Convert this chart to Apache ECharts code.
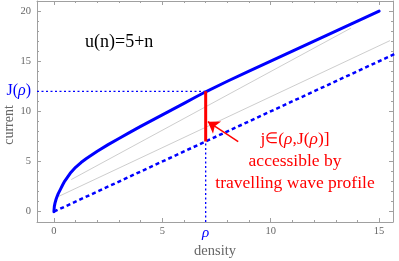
<!DOCTYPE html>
<html><head><meta charset="utf-8">
<script src="https://cdn.jsdelivr.net/npm/echarts@6/dist/echarts.min.js"></script>
<style>html,body{margin:0;padding:0;background:#fff}#c{width:399px;height:261px}</style>
</head><body><div id="c"></div>
<script>
// ---- data ----
const rhoVals = [0, 0.02, 0.05, 0.1, 0.15, 0.2, 0.3, 0.4, 0.5, 0.75, 1.0, 1.25, 1.5, 2.0, 2.5, 3.0, 3.5, 4.0, 4.5, 5.0, 5.5, 6.0, 6.5, 7.0, 8.0, 9.0, 10, 11, 12, 13, 14, 15];
const jVals   = [0, 0.53, 0.85, 1.24, 1.54, 1.8, 2.22, 2.66, 3.05, 3.82, 4.42, 4.9, 5.3, 6.02, 6.68, 7.3, 7.9, 8.5, 9.08, 9.65, 10.22, 10.8, 11.38, 11.95, 13.0, 14.0, 15.0, 16.0, 17.0, 18.0, 19.0, 20.0];
const diagX = [0, 17];            // dotted line j = rho
const diagY = [0, 17];
const grayA_X = [0.8, 13.7], grayA_Y = [3.2, 18.3];
const grayB_X = [0.2, 15.5], grayB_Y = [1.5, 17.05];
const rhoMark = 7;                // chosen density
const jMark = 12;                 // J(rho)
const jLow = 7;                   // rho value on diagonal
const arrowTail = [8.5, 6.98], arrowTip = [7.1, 8.97];
const xTicksMajor = [0, 5, 10, 15];
const xTickLabels = [0, 5, 7, 10, 15];
const yTicksMajor = [0, 5, 10, 15, 20];
const yTickLabels = [0, 5, 10, 12, 15, 20];
const minorTicksX = [0,1,2,3,4,5,6,7,8,9,10,11,12,13,14,15];
const minorTicksY = [0,1,2,3,4,5,6,7,8,9,10,11,12,13,14,15,16,17,18,19,20,21];
const xMin = -0.78, xMax = 15.64, yMin = -1.03, yMax = 21.0;

const FONT = 'Liberation Serif';
const frame = '#a0a0a0';
const tickTxt = '#666666';
const BLUE = '#0000ff', RED = '#ff0000';

function xAx(pos, ticks, len, showLine, labels) {
  return {
    type: 'value', position: pos, min: xMin, max: xMax,
    axisLine: {show: showLine, onZero: false, lineStyle: {color: frame, width: 1}},
    axisTick: {show: true, inside: true, length: len, customValues: ticks, lineStyle: {color: frame}},
    axisLabel: labels ? {
      show: true, customValues: labels, margin: 4,
      fontFamily: FONT, fontSize: 10.5, color: tickTxt,
      formatter: v => v === rhoMark ? '{r|ρ}' : String(v),
      rich: {r: {fontFamily: FONT, fontStyle: 'italic', fontSize: 15, color: BLUE}}
    } : {show: false},
    splitLine: {show: false}
  };
}
function yAx(pos, ticks, len, showLine, labels) {
  return {
    type: 'value', position: pos, min: yMin, max: yMax,
    axisLine: {show: showLine, onZero: false, lineStyle: {color: frame, width: 1}},
    axisTick: {show: true, inside: true, length: len, customValues: ticks, lineStyle: {color: frame}},
    axisLabel: labels ? {
      show: true, customValues: labels, margin: 6,
      fontFamily: FONT, fontSize: 10.5, color: tickTxt,
      formatter: v => v === jMark ? '{b|J(}{i|ρ}{b|)}' : String(v),
      rich: {
        b: {fontFamily: FONT, fontSize: 16, color: BLUE},
        i: {fontFamily: FONT, fontSize: 16, fontStyle: 'italic', color: BLUE}
      }
    } : {show: false},
    splitLine: {show: false}
  };
}

const zip = (a, b) => a.map((v, i) => [v, b[i]]);
const redRich = {
  n: {fontFamily: FONT, fontSize: 17.5, fill: RED},
  e: {fontFamily: FONT, fontSize: 15, fill: RED},
  i: {fontFamily: FONT, fontSize: 17.5, fontStyle: 'italic', fill: RED}
};

const chart = echarts.init(document.getElementById('c'), null, {renderer: 'canvas'});
chart.setOption({
  animation: false,
  grid: {left: 37, top: 1, right: 6, bottom: 39, containLabel: false},
  xAxis: [
    xAx('bottom', xTicksMajor, 4, true, xTickLabels),
    xAx('bottom', minorTicksX, 2, false, null),
    xAx('top', xTicksMajor, 4, true, null),
    xAx('top', minorTicksX, 2, false, null)
  ],
  yAxis: [
    yAx('left', yTicksMajor, 4, true, yTickLabels),
    yAx('left', minorTicksY, 2, false, null),
    yAx('right', yTicksMajor, 4, true, null),
    yAx('right', minorTicksY, 2, false, null)
  ],
  series: [
    {type: 'line', data: zip(grayA_X, grayA_Y), symbol: 'none', lineStyle: {color: '#c0c0c0', width: 0.8}},
    {type: 'line', data: zip(grayB_X, grayB_Y), symbol: 'none', lineStyle: {color: '#c0c0c0', width: 0.8}},
    {type: 'line', data: zip(diagX, diagY), symbol: 'none', clip: true,
     lineStyle: {color: BLUE, width: 2.5, type: [4, 3]}},
    {type: 'line', data: [[xMin, jMark], [rhoMark, jMark]], symbol: 'none',
     lineStyle: {color: BLUE, width: 1.3, type: [2, 2.5]}},
    {type: 'line', data: [[rhoMark, yMin], [rhoMark, jLow]], symbol: 'none',
     lineStyle: {color: BLUE, width: 1.3, type: [2, 2.5]}},
    {type: 'line', data: zip(rhoVals, jVals), symbol: 'none', smooth: false,
     lineStyle: {color: BLUE, width: 3, join: 'round', cap: 'round'}},
    {type: 'line', data: [[rhoMark, jLow], [rhoMark, jMark]], symbol: 'none',
     lineStyle: {color: RED, width: 3},
     markLine: {
       silent: true, symbol: ['none', 'arrow'], symbolSize: 11,
       lineStyle: {color: RED, width: 1.5, type: 'solid'}, label: {show: false},
       data: [[{coord: arrowTail}, {coord: arrowTip}]]
     }}
  ],
  graphic: [
    {type: 'text', x: 85, y: 42, style: {text: 'u(n)=5+n', fontFamily: FONT, fontSize: 18, fill: '#000', verticalAlign: 'middle'}},
    {type: 'text', x: 295, y: 139, style: {text: '{n|j}{e|∈}{n|(}{i|ρ}{n|,J(}{i|ρ}{n|)]}', rich: redRich, fontFamily: FONT, fontSize: 17.5, fill: RED, align: 'center', verticalAlign: 'middle'}},
    {type: 'text', x: 295, y: 161, style: {text: 'accessible by', fontFamily: FONT, fontSize: 17.5, fill: RED, align: 'center', verticalAlign: 'middle'}},
    {type: 'text', x: 295, y: 183, style: {text: 'travelling wave profile', fontFamily: FONT, fontSize: 17.5, fill: RED, align: 'center', verticalAlign: 'middle'}},
    {type: 'text', x: 215, y: 251, style: {text: 'density', fontFamily: FONT, fontSize: 14.5, fill: tickTxt, align: 'center', verticalAlign: 'middle'}},
    {type: 'text', x: 9, y: 125, rotation: Math.PI / 2, style: {text: 'current', fontFamily: FONT, fontSize: 14, fill: tickTxt, align: 'center', verticalAlign: 'middle'}}
  ]
});
</script></body></html>
